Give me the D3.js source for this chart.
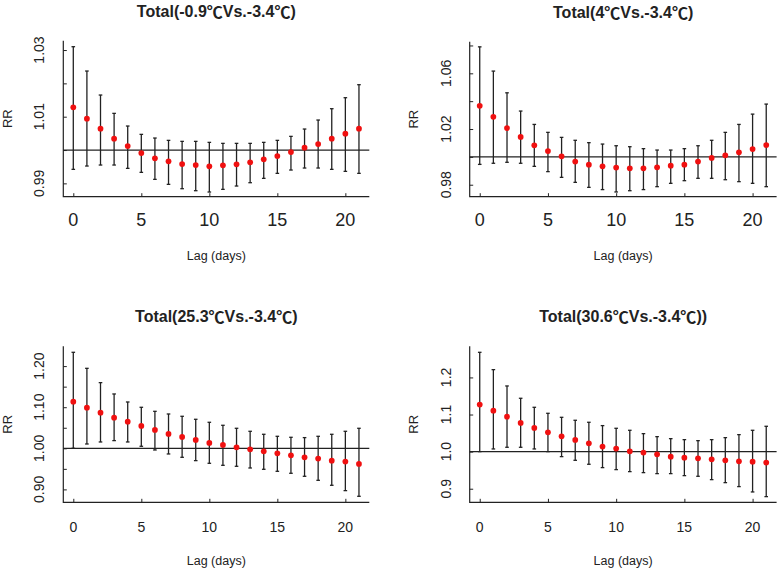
<!DOCTYPE html>
<html><head><meta charset="utf-8">
<script src="https://cdn.jsdelivr.net/npm/d3@7"></script>
<style>body{margin:0;background:#fff}svg{display:block}text{font-family:"Liberation Sans",Arial,sans-serif;fill:#222}</style>
</head><body>
<svg id="chart" width="778" height="569"></svg>
<script>
const lags = d3.range(0, 22);
const titles = ["Total(-0.9\u2103Vs.-3.4\u2103)", "Total(4\u2103Vs.-3.4\u2103)", "Total(25.3\u2103Vs.-3.4\u2103)", "Total(30.6\u2103Vs.-3.4\u2103))"];

const est1 = [1.0128,1.0094,1.0064,1.0034,1.0012,0.9991,0.9975,0.9966,0.9958,0.9955,0.9951,0.9954,0.9957,0.9963,0.9972,0.9982,0.9994,1.0007,1.0018,1.0034,1.0049,1.0064];
const up1  = [1.0310,1.0237,1.0165,1.0110,1.0072,1.0047,1.0036,1.0029,1.0026,1.0026,1.0023,1.0020,1.0020,1.0020,1.0023,1.0029,1.0041,1.0063,1.0090,1.0124,1.0157,1.0196];
const lo1  = [0.9942,0.9952,0.9955,0.9955,0.9945,0.9933,0.9912,0.9897,0.9884,0.9878,0.9874,0.9882,0.9892,0.9902,0.9915,0.9930,0.9940,0.9946,0.9946,0.9942,0.9936,0.9930];

const est2 = [1.0367,1.0288,1.0207,1.0143,1.0083,1.0042,1.0004,0.9966,0.9944,0.9932,0.9923,0.9918,0.9918,0.9925,0.9937,0.9944,0.9966,0.9992,1.0011,1.0033,1.0056,1.0085];
const up2  = [1.0790,1.0616,1.0460,1.0329,1.0233,1.0176,1.0140,1.0119,1.0102,1.0092,1.0080,1.0073,1.0059,1.0049,1.0049,1.0059,1.0080,1.0119,1.0176,1.0233,1.0307,1.0379];
const lo2  = [0.9946,0.9954,0.9961,0.9954,0.9932,0.9894,0.9853,0.9817,0.9781,0.9765,0.9748,0.9757,0.9765,0.9786,0.9810,0.9829,0.9846,0.9846,0.9836,0.9822,0.9810,0.9786];

const est3 = [1.1135,1.0989,1.0868,1.0746,1.0649,1.0543,1.0446,1.0349,1.0276,1.0203,1.0130,1.0081,1.0024,0.9976,0.9927,0.9878,0.9830,0.9781,0.9749,0.9700,0.9676,0.9619];
const up3  = [1.2336,1.1946,1.1598,1.1322,1.1127,1.0998,1.0900,1.0835,1.0779,1.0706,1.0633,1.0560,1.0487,1.0414,1.0341,1.0292,1.0268,1.0260,1.0292,1.0341,1.0414,1.0487];
const lo3  = [1.0000,1.0105,1.0154,1.0187,1.0154,1.0049,0.9959,0.9862,0.9781,0.9700,0.9635,0.9586,0.9562,0.9521,0.9489,0.9440,0.9392,0.9319,0.9221,0.9100,0.8970,0.8832];

const est4 = [1.1267,1.1105,1.0943,1.0773,1.0638,1.0521,1.0413,1.0314,1.0225,1.0135,1.0081,1.0009,0.9973,0.9928,0.9865,0.9838,0.9820,0.9793,0.9766,0.9739,0.9730,0.9704];
const up4  = [1.2677,1.2210,1.1770,1.1438,1.1195,1.1033,1.0925,1.0845,1.0791,1.0701,1.0629,1.0575,1.0485,1.0404,1.0350,1.0323,1.0296,1.0323,1.0377,1.0458,1.0575,1.0683];
const lo4  = [1.0000,1.0072,1.0117,1.0117,1.0072,1.0000,0.9865,0.9766,0.9659,0.9569,0.9515,0.9461,0.9434,0.9407,0.9407,0.9353,0.9335,0.9245,0.9164,0.9057,0.8913,0.8787];

const yDomains = [[0.986, 1.0328], [0.9714, 1.0827], [0.8686, 1.2482], [0.8634, 1.2839]];
const yTicks1 = [0.99, 1.00, 1.01, 1.02, 1.03];
const yLabels1 = ["0.99", "", "1.01", "", "1.03"];
const yTicks2 = [0.98, 1.00, 1.02, 1.04, 1.06, 1.08];
const yLabels2 = ["0.98", "", "1.02", "", "1.06", ""];
const yTicks3 = [0.90, 0.95, 1.00, 1.05, 1.10, 1.15, 1.20];
const yLabels3 = ["0.90", "", "1.00", "", "1.10", "", "1.20"];
const yTicks4 = [0.9, 1.0, 1.1, 1.2];
const yLabels4 = ["0.9", "1.0", "1.1", "1.2"];
const xTicks = [0, 5, 10, 15, 20];
const xDomain = [-0.735, 21.76];

const panels = [
  {title: titles[0], est: est1, up: up1, lo: lo1, yd: yDomains[0], yt: yTicks1, yl: yLabels1,
   box: {l: 63.3, r: 369.3, t: 40.7, b: 196.7}, xfs: 18, xlY: 23.5},
  {title: titles[1], est: est2, up: up2, lo: lo2, yd: yDomains[1], yt: yTicks2, yl: yLabels2,
   box: {l: 469.7, r: 776.6, t: 41.7, b: 196.7}, xfs: 18, xlY: 23.5},
  {title: titles[2], est: est3, up: up3, lo: lo3, yd: yDomains[2], yt: yTicks3, yl: yLabels3,
   box: {l: 63.3, r: 369.3, t: 346.3, b: 502.3}, xfs: 14, xlY: 24.5},
  {title: titles[3], est: est4, up: up4, lo: lo4, yd: yDomains[3], yt: yTicks4, yl: yLabels4,
   box: {l: 469.7, r: 776.6, t: 346.3, b: 502.3}, xfs: 14, xlY: 24.5}
];

const svg = d3.select("#chart");
const ink = "#222";

panels.forEach(p => {
  const b = p.box;
  const x = d3.scaleLinear().domain(xDomain).range([b.l, b.r]);
  const y = d3.scaleLinear().domain(p.yd).range([b.b, b.t]);
  const g = svg.append("g");

  const ya = g.append("g").attr("transform", `translate(${b.l},0)`)
    .call(d3.axisLeft(y).tickValues(p.yt).tickSize(-3.5).tickFormat(""));
  ya.select(".domain").remove();
  ya.selectAll("line").attr("stroke", ink).attr("stroke-width", 1);
  const xa = g.append("g").attr("transform", `translate(0,${b.b})`)
    .call(d3.axisBottom(x).tickValues(xTicks).tickSize(-3.5).tickFormat(""));
  xa.select(".domain").remove();
  xa.selectAll("line").attr("stroke", ink).attr("stroke-width", 1);

  g.append("path").attr("d", `M${b.l},${b.t}V${b.b}H${b.r}`)
    .attr("fill", "none").attr("stroke", ink).attr("stroke-width", 1.2);

  p.yt.forEach((v, i) => {
    if (!p.yl[i]) return;
    g.append("text").attr("transform", `translate(${b.l - 24},${y(v)}) rotate(-90)`)
      .attr("text-anchor", "middle").attr("dominant-baseline", "central")
      .attr("font-size", 14).text(p.yl[i]);
  });
  xTicks.forEach(v => {
    g.append("text").attr("x", x(v)).attr("y", b.b + p.xlY)
      .attr("text-anchor", "middle").attr("dominant-baseline", "central")
      .attr("font-size", p.xfs).text(v);
  });

  g.append("line").attr("x1", b.l).attr("x2", b.r).attr("y1", y(1)).attr("y2", y(1))
    .attr("stroke", ink).attr("stroke-width", 1.2);

  const eb = g.append("g").attr("stroke", ink).attr("stroke-width", 1.3);
  lags.forEach(i => {
    eb.append("line").attr("x1", x(i)).attr("x2", x(i)).attr("y1", y(p.lo[i])).attr("y2", y(p.up[i]));
    eb.append("line").attr("x1", x(i) - 1.8).attr("x2", x(i) + 1.8).attr("y1", y(p.lo[i])).attr("y2", y(p.lo[i]));
    eb.append("line").attr("x1", x(i) - 1.8).attr("x2", x(i) + 1.8).attr("y1", y(p.up[i])).attr("y2", y(p.up[i]));
  });
  g.selectAll("path.pt").data(lags).enter().append("path").attr("class", "pt")
    .attr("d", d3.symbol(d3.symbolCircle, 26))
    .attr("transform", i => `translate(${x(i)},${y(p.est[i])})`)
    .attr("fill", "#f01010");

  const t = g.append("text").attr("x", (b.l + b.r) / 2).attr("y", b.t - 30)
    .attr("text-anchor", "middle").attr("dominant-baseline", "central")
    .attr("font-size", 16).attr("font-weight", "bold").attr("fill", "#111");
  p.title.split(/(\u2103)/).forEach(part => {
    if (!part) return;
    const ts = t.append("tspan").text(part);
    if (part === "\u2103") ts.attr("font-family", "'Noto Sans CJK SC', sans-serif");
  });
  g.append("text").attr("x", (b.l + b.r) / 2).attr("y", b.b + 59)
    .attr("text-anchor", "middle").attr("dominant-baseline", "central")
    .attr("font-size", 12.5).text("Lag (days)");
  g.append("text").attr("transform", `translate(${b.l - 56},${(b.t + b.b) / 2}) rotate(-90)`)
    .attr("text-anchor", "middle").attr("dominant-baseline", "central")
    .attr("font-size", 13).text("RR");
});
</script>
</body></html>
